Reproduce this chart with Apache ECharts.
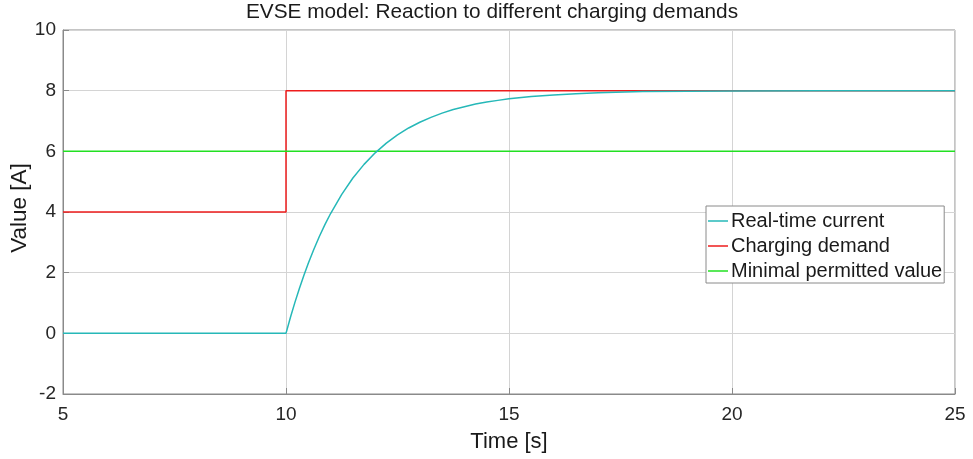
<!DOCTYPE html>
<html>
<head>
<meta charset="utf-8">
<script src="https://cdn.jsdelivr.net/npm/echarts@6/dist/echarts.min.js"></script>
<style>html,body{margin:0;padding:0;background:#fff}#c{width:973px;height:459px}</style>
</head>
<body>
<div id="c"></div>
<script>
// Data
const realTimeT = [5, 10, 10.1, 10.2, 10.3, 10.4, 10.5, 10.625, 10.75, 10.875, 11, 11.25, 11.5, 11.75, 12, 12.25, 12.5, 12.75, 13, 13.25, 13.5, 13.75, 14, 14.25, 14.5, 14.75, 15, 15.5, 16, 16.5, 17, 18, 19, 20, 22, 25];
const realTimeV = [0, 0, 0.53, 1.02, 1.48, 1.91, 2.31, 2.77, 3.20, 3.59, 3.95, 4.58, 5.12, 5.57, 5.95, 6.27, 6.54, 6.77, 6.96, 7.12, 7.26, 7.38, 7.47, 7.56, 7.63, 7.68, 7.73, 7.81, 7.86, 7.90, 7.93, 7.97, 7.98, 7.99, 8.0, 8.0];
const demandT = [5, 10, 10, 25];
const demandV = [4, 4, 8, 8];
const minT = [5, 25];
const minV = [6, 6];
const seriesNames = ['Real-time current', 'Charging demand', 'Minimal permitted value'];
const xTicks = [5, 10, 15, 20, 25];
const yTicks = [-2, 0, 2, 4, 6, 8, 10];
const yAxisTitle = 'Value [A]';

const zip = (a, b) => a.map((v, i) => [v, b[i]]);
const FONT = "'Liberation Sans', Arial, Helvetica, sans-serif";

const chart = echarts.init(document.getElementById('c'), null, {renderer: 'canvas'});
chart.setOption({
  animation: false,
  backgroundColor: '#fff',
  title: {
    text: 'EVSE model: Reaction to different charging demands',
    left: 492, top: 2, textAlign: 'center', padding: 0,
    textStyle: {fontFamily: FONT, fontSize: 20.8, fontWeight: 'normal', color: '#1a1a1a'}
  },
  grid: {left: 63, right: 18, top: 30, bottom: 65, outerBoundsMode: 'none', containLabel: false,
         show: true, borderColor: '#8a8a8a', borderWidth: 1, backgroundColor: 'transparent'},
  legend: {
    orient: 'vertical', left: 706, top: 206,
    data: seriesNames,
    icon: 'rect', itemWidth: 20, itemHeight: 1.5, itemGap: 5,
    padding: [5, 2, 2, 2],
    backgroundColor: '#fff', borderColor: '#8a8a8a', borderWidth: 1, borderRadius: 0,
    textStyle: {fontFamily: FONT, fontSize: 20, color: '#1a1a1a', lineHeight: 20, padding: [0, 0, 0, -2]}
  },
  graphic: [{
    type: 'text', x: 19.5, y: 208, rotation: Math.PI / 2, silent: true,
    style: {text: yAxisTitle, font: "22.5px 'Liberation Sans', Arial, sans-serif", fill: '#1a1a1a',
            textAlign: 'center', textVerticalAlign: 'middle'}
  }],
  xAxis: {
    type: 'value', min: xTicks[0], max: xTicks[xTicks.length - 1], interval: 5,
    name: 'Time [s]', nameLocation: 'middle', nameGap: 37,
    nameTextStyle: {fontFamily: FONT, fontSize: 22, color: '#1a1a1a'},
    axisLine: {show: true, onZero: false, lineStyle: {color: '#8a8a8a'}},
    axisTick: {show: true, inside: true, length: 6, lineStyle: {color: '#8a8a8a'}},
    axisLabel: {fontFamily: FONT, fontSize: 19, color: '#262626', margin: 11},
    splitLine: {show: true, lineStyle: {color: '#d4d4d4', width: 1}}
  },
  yAxis: {
    type: 'value', min: yTicks[0], max: yTicks[yTicks.length - 1], interval: 2,
    axisLine: {show: true, onZero: false, lineStyle: {color: '#8a8a8a'}},
    axisTick: {show: true, inside: true, length: 6, lineStyle: {color: '#8a8a8a'}},
    axisLabel: {fontFamily: FONT, fontSize: 19, color: '#262626', margin: 7},
    splitLine: {show: true, lineStyle: {color: '#d4d4d4', width: 1}}
  },
  series: [
    {name: seriesNames[0], type: 'line', data: zip(realTimeT, realTimeV), showSymbol: false, symbol: 'none',
     lineStyle: {color: '#26b8b8', width: 1.5}, itemStyle: {color: '#26b8b8'}, z: 3},
    {name: seriesNames[1], type: 'line', data: zip(demandT, demandV), showSymbol: false, symbol: 'none',
     lineStyle: {color: '#ee1c1c', width: 1.5}, itemStyle: {color: '#ee1c1c'}, z: 2},
    {name: seriesNames[2], type: 'line', data: zip(minT, minV), showSymbol: false, symbol: 'none',
     lineStyle: {color: '#22e022', width: 1.5}, itemStyle: {color: '#22e022'}, z: 2}
  ]
});
</script>
</body>
</html>
